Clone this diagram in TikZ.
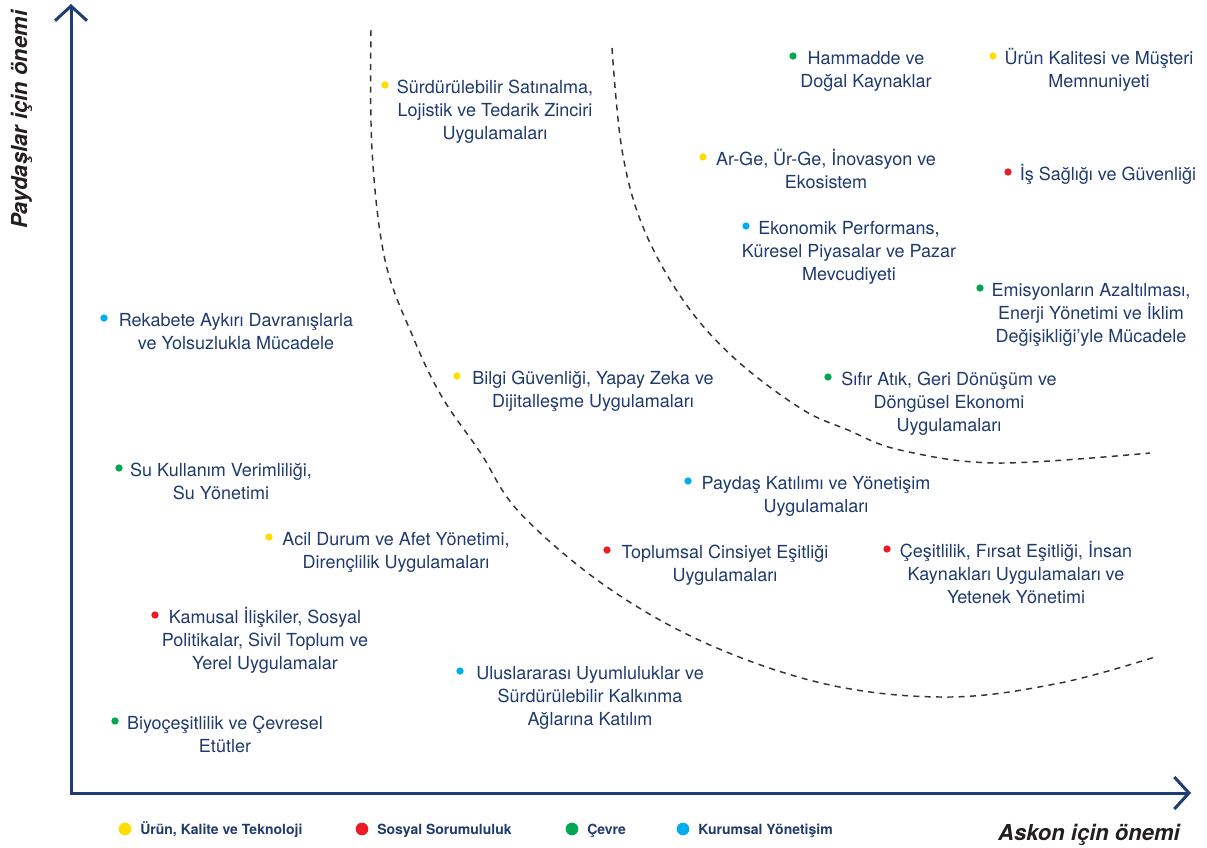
\documentclass[tikz,border=0pt]{standalone}
\usepackage{fontspec}
\setmainfont{TeX Gyre Heros}
\usetikzlibrary{arrows.meta}
\definecolor{navy}{HTML}{1F3A6E}
\definecolor{axis-blue}{HTML}{1F3D73}
\definecolor{dot-yellow}{HTML}{FFDD00}
\definecolor{dot-red}{HTML}{ED1C24}
\definecolor{dot-green}{HTML}{00A651}
\definecolor{dot-blue}{HTML}{00AEEF}
\definecolor{curve-grey}{HTML}{333333}
\definecolor{label-black}{HTML}{231F20}

\begin{document}
\begin{tikzpicture}[
    x=0.75pt, y=-0.75pt,
    topic/.style={
        align=center, anchor=base, inner sep=0pt,
        text=navy, font=\fontsize{13.5}{17.25}\selectfont,
    },
    dot/.style={
        circle, fill=#1, inner sep=0pt, minimum size=5.5pt,
    },
    key dot/.style={
        circle, fill=#1, inner sep=0pt, minimum size=9.5pt,
    },
    key/.style={
        anchor=base west, inner sep=0pt,
        text=navy, font=\bfseries\fontsize{10.5}{12}\selectfont,
    },
    axis title/.style={
        inner sep=0pt, text=label-black,
        font=\bfseries\itshape\fontsize{16.5}{19}\selectfont,
    },
    axis/.style={
        axis-blue, line width=2.25pt, line join=miter,
        {Straight Barb[length=11pt, width=24pt, line width=2.25pt]}-{Straight Barb[length=11pt, width=24pt, line width=2.25pt]},
    },
    boundary/.style={
        curve-grey, line width=1.1pt, dash pattern=on 4.5pt off 4pt,
    },
]
\useasboundingbox (0,0) rectangle (1207,847);

% axes
\coordinate (origin) at (71,793);
\coordinate (y-top) at (71,4);
\coordinate (x-end) at (1191,793);
\draw[axis] (y-top) -- (origin) -- (x-end);
\node[axis title, anchor=base east] (x-title) at (1180,840) {Askon için önemi};
\node[axis title, anchor=base west, rotate=90] (y-title) at (27,229) {Paydaşlar için önemi};

% zone boundaries
\draw[boundary] plot[smooth, tension=0.6] coordinates {
    (371,30) (372,150) (385,260) (413,337) (442,397) (480,452) (520,513)
    (607,587) (710,645) (830,685) (950,697) (1060,683) (1155,657)};
\draw[boundary] plot[smooth, tension=0.6] coordinates {
    (612,48) (622,150) (643,227) (683,300) (733,357) (800,408) (848,430)
    (900,450) (997,463) (1150,453)};

% topics (base = baseline of the last line)
\node[dot=dot-yellow] (d-satinalma) at (385,85) {};
\node[topic] (satinalma) at (495,139) {Sürdürülebilir Satınalma,\\Lojistik ve Tedarik Zinciri\\Uygulamaları};
\node[dot=dot-green] (d-hammadde) at (793,56) {};
\node[topic] (hammadde) at (866,87) {Hammadde ve\\Doğal Kaynaklar};
\node[dot=dot-yellow] (d-kalite) at (993,56) {};
\node[topic] (kalite) at (1099,87) {Ürün Kalitesi ve Müşteri\\Memnuniyeti};
\node[dot=dot-yellow] (d-arge) at (703,157) {};
\node[topic] (arge) at (826,188) {Ar-Ge, Ür-Ge, İnovasyon ve\\Ekosistem};
\node[dot=dot-red] (d-isg) at (1008,172) {};
\node[topic] (isg) at (1108,180) {İş Sağlığı ve Güvenliği};
\node[dot=dot-blue] (d-ekonomik) at (746,226) {};
\node[topic] (ekonomik) at (849,280) {Ekonomik Performans,\\Küresel Piyasalar ve Pazar\\Mevcudiyeti};
\node[dot=dot-green] (d-emisyon) at (980,288) {};
\node[topic] (emisyon) at (1091,342) {Emisyonların Azaltılması,\\Enerji Yönetimi ve İklim\\Değişikliği’yle Mücadele};
\node[dot=dot-blue] (d-rekabet) at (104,318) {};
\node[topic] (rekabet) at (236,349) {Rekabete Aykırı Davranışlarla\\ve Yolsuzlukla Mücadele};
\node[dot=dot-yellow] (d-bilgi) at (457,376) {};
\node[topic] (bilgi) at (593,407) {Bilgi Güvenliği, Yapay Zeka ve\\Dijitalleşme Uygulamaları};
\node[dot=dot-green] (d-atik) at (828,377) {};
\node[topic] (atik) at (949,431) {Sıfır Atık, Geri Dönüşüm ve\\Döngüsel Ekonomi\\Uygulamaları};
\node[dot=dot-green] (d-su) at (119,468) {};
\node[topic] (su) at (221,499) {Su Kullanım Verimliliği,\\Su Yönetimi};
\node[dot=dot-blue] (d-paydas) at (688,481) {};
\node[topic] (paydas) at (816,512) {Paydaş Katılımı ve Yönetişim\\Uygulamaları};
\node[dot=dot-yellow] (d-afet) at (269,537) {};
\node[topic] (afet) at (396,568) {Acil Durum ve Afet Yönetimi,\\Dirençlilik Uygulamaları};
\node[dot=dot-red] (d-cinsiyet) at (607,550) {};
\node[topic] (cinsiyet) at (725,581) {Toplumsal Cinsiyet Eşitliği\\Uygulamaları};
\node[dot=dot-red] (d-cesitlilik) at (887,549) {};
\node[topic] (cesitlilik) at (1016,603) {Çeşitlilik, Fırsat Eşitliği, İnsan\\Kaynakları Uygulamaları ve\\Yetenek Yönetimi};
\node[dot=dot-red] (d-kamusal) at (155,615) {};
\node[topic] (kamusal) at (265,669) {Kamusal İlişkiler, Sosyal\\Politikalar, Sivil Toplum ve\\Yerel Uygulamalar};
\node[dot=dot-blue] (d-uyum) at (460,671) {};
\node[topic] (uyum) at (590,725) {Uluslararası Uyumluluklar ve\\Sürdürülebilir Kalkınma\\Ağlarına Katılım};
\node[dot=dot-green] (d-biyo) at (115,721) {};
\node[topic] (biyo) at (225,752) {Biyoçeşitlilik ve Çevresel\\Etütler};

% legend
\foreach \col/\lx/\txt [count=\i] in {
    dot-yellow/125/{Ürün, Kalite ve Teknoloji},
    dot-red/362/{Sosyal Sorumululuk},
    dot-green/572/{Çevre},
    dot-blue/683/{Kurumsal Yönetişim}}
{
    \node[key dot=\col] (key-\i) at (\lx,829) {};
    \node[key] (key-text-\i) at (\lx+15,834) {\txt};
}
\end{tikzpicture}
\end{document}
